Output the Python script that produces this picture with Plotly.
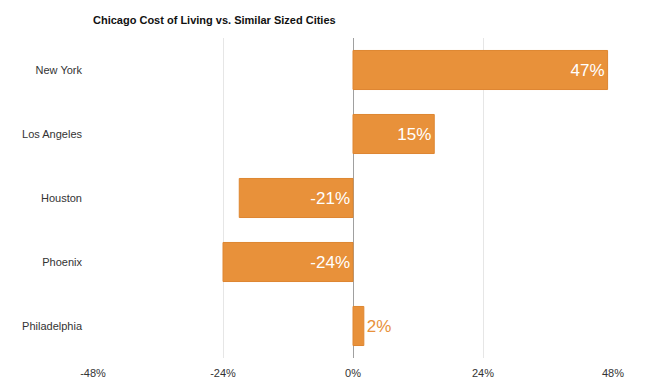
import plotly.graph_objects as go

cities = ["New York", "Los Angeles", "Houston", "Phoenix", "Philadelphia"]
values = [47, 15, -21, -24, 2]
labels = ["47%", "15%", "-21%", "-24%", "2%"]
tick_vals = [-48, -24, 0, 24, 48]
tick_text = ["-48%", "-24%", "0%", "24%", "48%"]

fill = "#E8913A"
edge = "#DE8631"
FONT = "Arial, Liberation Sans, sans-serif"

pos = [i for i, v in enumerate(values) if v >= 0]
neg = [i for i, v in enumerate(values) if v < 0]

fig = go.Figure()
for idx, anchor in ((pos, "end"), (neg, "start")):
    fig.add_trace(go.Bar(
        y=[cities[i] for i in idx],
        x=[values[i] for i in idx],
        text=[labels[i] for i in idx],
        orientation="h",
        width=0.61,
        marker=dict(color=fill, line=dict(color=edge, width=1)),
        textposition="auto",
        insidetextanchor=anchor,
        insidetextfont=dict(color="white", size=17, family=FONT),
        outsidetextfont=dict(color="#E8913A", size=17, family=FONT),
        textangle=0,
        cliponaxis=False,
        hoverinfo="skip",
        showlegend=False,
    ))

fig.update_layout(
    width=650, height=383,
    margin=dict(l=85, r=45, t=30, b=33, autoexpand=False),
    paper_bgcolor="white", plot_bgcolor="white",
    font=dict(family=FONT, size=11, color="#333333"),
    title=dict(text="<b>Chicago Cost of Living vs. Similar Sized Cities</b>",
               x=0, xref="paper", xanchor="left",
               y=1 - 12 / 383, yref="container", yanchor="middle",
               font=dict(size=11, color="#111111")),
    xaxis=dict(range=[-48, 48], tickvals=tick_vals, ticktext=tick_text,
               showgrid=True, gridcolor="#E6E6E6", gridwidth=1,
               zeroline=True, zerolinecolor="#A0A0A0", zerolinewidth=1,
               showline=False, ticks="", ticklabelstandoff=7, fixedrange=True),
    yaxis=dict(categoryorder="array", categoryarray=cities, autorange="reversed",
               showgrid=False, zeroline=False, showline=False, ticks="",
               ticklabelstandoff=10),
)

fig.write_html("out.html")
